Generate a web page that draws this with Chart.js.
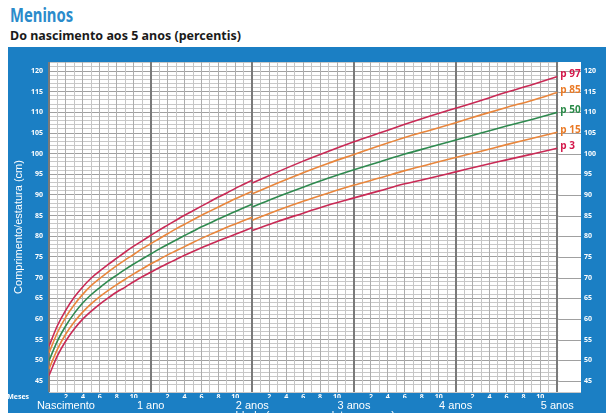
<!DOCTYPE html>
<html>
<head>
<meta charset="utf-8">
<script src="https://cdn.jsdelivr.net/npm/chart.js@4"></script>
<style>
  html, body { margin: 0; padding: 0; background: #fff; width: 613px; height: 413px; overflow: hidden; }
  #title { position: absolute; left: 10px; top: 1px; font: bold 20px "Noto Sans"; color: #2a8bcb; transform: scaleX(0.74); transform-origin: left; }
  #subtitle { position: absolute; left: 10px; top: 26px; font: bold 13px "Noto Sans"; color: #1a1a1a; transform: scaleX(0.96); transform-origin: left; }
  #panel { position: absolute; left: 8px; top: 47px; width: 598px; height: 380px; background: #1b7fc4; }
</style>
</head>
<body>
<div id="title">Meninos</div>
<div id="subtitle">Do nascimento aos 5 anos (percentis)</div>
<div id="panel"><canvas id="chart" width="598" height="380"></canvas></div>
<script>
// idade em meses
const lengthAges = [0, 1, 2, 3, 4, 5, 6, 7, 8, 9, 10, 11, 12, 13, 14, 15, 16, 17, 18, 19, 20, 21, 22, 23, 24];
const heightAges = [24, 27, 30, 33, 36, 39, 42, 45, 48, 51, 54, 57, 60];

// comprimento (deitado), 0-24 meses
const p3Length = [46.3, 51.1, 54.7, 57.6, 60.0, 61.9, 63.6, 65.1, 66.5, 67.7, 69.0, 70.2, 71.3, 72.4, 73.4, 74.4, 75.4, 76.3, 77.2, 78.1, 78.9, 79.7, 80.5, 81.3, 82.1];
const p15Length = [47.9, 52.7, 56.4, 59.3, 61.7, 63.7, 65.4, 66.9, 68.3, 69.6, 70.9, 72.1, 73.3, 74.4, 75.5, 76.5, 77.5, 78.5, 79.5, 80.4, 81.3, 82.2, 83.0, 83.8, 84.6];
const p50Length = [49.9, 54.7, 58.4, 61.4, 63.9, 65.9, 67.6, 69.2, 70.6, 72.0, 73.3, 74.5, 75.7, 76.9, 78.0, 79.1, 80.2, 81.2, 82.3, 83.2, 84.2, 85.1, 86.0, 86.9, 87.8];
const p85Length = [51.8, 56.7, 60.5, 63.5, 66.0, 68.1, 69.8, 71.4, 72.9, 74.3, 75.6, 77.0, 78.2, 79.4, 80.6, 81.8, 82.9, 84.0, 85.1, 86.1, 87.1, 88.1, 89.1, 90.0, 90.9];
const p97Length = [53.4, 58.4, 62.2, 65.3, 67.8, 69.9, 71.6, 73.2, 74.7, 76.2, 77.6, 78.9, 80.2, 81.5, 82.7, 83.9, 85.1, 86.2, 87.3, 88.4, 89.5, 90.5, 91.6, 92.6, 93.6];

// estatura (em pe), 24-60 meses
const p3Height = [81.4, 83.6, 85.6, 87.6, 89.3, 91.0, 92.7, 94.1, 95.6, 97.1, 98.5, 99.9, 101.3];
const p15Height = [83.9, 86.3, 88.5, 90.5, 92.4, 94.1, 95.9, 97.5, 99.1, 100.6, 102.2, 103.7, 105.2];
const p50Height = [87.1, 89.6, 91.9, 94.1, 96.1, 98.0, 99.9, 101.6, 103.3, 105.0, 106.7, 108.3, 110.0];
const p85Height = [90.3, 92.9, 95.4, 97.7, 99.8, 101.9, 103.9, 105.7, 107.5, 109.4, 111.2, 112.9, 114.8];
const p97Height = [92.9, 95.6, 98.2, 100.6, 102.9, 105.0, 107.1, 109.1, 111.0, 112.9, 114.9, 116.7, 118.7];

const percentileNames = ["p 97", "p 85", "p 50", "p 15", "p 3"];
const yearTicks = [2, 12, 24, 36, 48, 60];
const yearLabels = ["Nascimento", "1 ano", "2 anos", "3 anos", "4 anos", "5 anos"];

const RED = "#c92a55";
const ORANGE = "#e9863c";
const GREEN = "#2f8a4f";
const lineColors = [RED, ORANGE, GREEN, ORANGE, RED];
const labelColors = ["#d4174a", "#ea7a26", "#2a8a48", "#ea7a26", "#d4174a"];

const lengthSeries = [p97Length, p85Length, p50Length, p15Length, p3Length];
const heightSeries = [p97Height, p85Height, p50Height, p15Height, p3Height];

function points(ages, values) {
  return ages.map((a, i) => ({ x: a, y: values[i] }));
}

let datasets = [];
percentileNames.forEach((name, i) => {
  datasets.push({
    label: name,
    data: points(lengthAges, lengthSeries[i]),
    borderColor: lineColors[i],
  });
  datasets.push({
    label: name,
    data: points(heightAges, heightSeries[i]),
    borderColor: lineColors[i],
    endLabel: true,
    labelColor: labelColors[i],
  });
});

const whiteArea = {
  id: "whiteArea",
  beforeDraw(chart) {
    const { ctx, chartArea } = chart;
    ctx.save();
    ctx.fillStyle = "#ffffff";
    ctx.fillRect(chartArea.left, chartArea.top, chartArea.right - chartArea.left, chartArea.bottom - chartArea.top);
    ctx.restore();
  },
  // strip for the percentile labels after 60 months: only 5 cm lines
  beforeDatasetsDraw(chart) {
    const { ctx, chartArea, scales } = chart;
    const x0 = scales.x.getPixelForValue(60) + 1;
    ctx.save();
    ctx.fillStyle = "#ffffff";
    ctx.fillRect(x0, chartArea.top, chartArea.right - x0, chartArea.bottom - chartArea.top);
    ctx.strokeStyle = "#a0a0a0";
    ctx.lineWidth = 1;
    for (let v = 45; v <= 120; v += 5) {
      const y = Math.round(scales.y.getPixelForValue(v)) + 0.5;
      ctx.beginPath();
      ctx.moveTo(x0, y);
      ctx.lineTo(chartArea.right, y);
      ctx.stroke();
    }
    ctx.restore();
  },
  afterDatasetsDraw(chart) {
    const { ctx, chartArea } = chart;
    ctx.save();
    ctx.font = "bold 10px 'Open Sans'";
    ctx.textBaseline = "middle";
    chart.data.datasets.forEach((ds, i) => {
      if (!ds.endLabel) return;
      const meta = chart.getDatasetMeta(i);
      const last = meta.data[meta.data.length - 1];
      ctx.fillStyle = ds.labelColor;
      ctx.fillText(ds.label, last.x + 3, last.y - 2);
    });
    ctx.fillStyle = "#ffffff";
    ctx.font = "bold 7px 'Open Sans'";
    ctx.textAlign = "right";
    ctx.textBaseline = "top";
    ctx.fillText("Meses", chartArea.left - 20, chartArea.bottom + 1);
    ctx.restore();
  },
};

new Chart(document.getElementById("chart"), {
  type: "line",
  data: { datasets: datasets },
  options: {
    responsive: false,
    animation: false,
    events: [],
    layout: { padding: { top: 15, left: 0, right: 0, bottom: 0 } },
    elements: {
      point: { radius: 0 },
      line: { borderWidth: 1.6, tension: 0.4, cubicInterpolationMode: "monotone" },
    },
    plugins: {
      legend: { display: false },
      tooltip: { enabled: false },
    },
    scales: {
      // y first so the vertical month/year lines are drawn on top of it
      y: {
        type: "linear",
        position: "left",
        min: 42.3,
        max: 122.2,
        grid: {
          drawTicks: false,
          color: (c) => (c.tick.value % 5 === 0 ? "#a0a0a0" : "#c8c8c8"),
        },
        border: { display: false },
        ticks: {
          stepSize: 1,
          autoSkip: false,
          padding: 6,
          color: "#ffffff",
          font: { size: 7, weight: "bold", family: "'Open Sans'" },
          callback: (v) => (v % 5 === 0 && v >= 45 && v <= 120 ? v : ""),
        },
        title: {
          display: true,
          text: "Comprimento/estatura (cm)",
          color: "#ffffff",
          font: { size: 11, family: "'Liberation Sans'" },
        },
        afterFit: (s) => { s.width = 41; },
      },
      y2: {
        type: "linear",
        position: "right",
        min: 42.3,
        max: 122.2,
        grid: { display: false, drawTicks: false },
        border: { display: false },
        ticks: {
          stepSize: 1,
          autoSkip: false,
          padding: 3,
          color: "#ffffff",
          font: { size: 7, weight: "bold", family: "'Open Sans'" },
          callback: (v) => (v % 5 === 0 && v >= 45 && v <= 120 ? v : ""),
        },
        afterFit: (s) => { s.width = 25; },
      },
      x: {
        type: "linear",
        position: "bottom",
        min: 0,
        max: 62.8,
        grid: {
          drawTicks: false,
          color: (c) => {
            const v = c.tick.value;
            if (v > 60) return "rgba(0,0,0,0)";
            if (v % 12 === 0) return "#7a7a7a";
            return v % 2 === 0 ? "#adadad" : "#c6c6c6";
          },
          lineWidth: (c) => (c.tick.value % 12 === 0 ? 2 : 1),
        },
        border: { display: false },
        ticks: {
          stepSize: 1,
          autoSkip: false,
          maxRotation: 0,
          padding: 1,
          color: "#ffffff",
          font: { size: 7, weight: "bold", family: "'Open Sans'" },
          callback: (v) => {
            const m = v % 12;
            return v <= 60 && m > 0 && m % 2 === 0 ? String(m) : "";
          },
        },
        afterFit: (s) => { s.height = 6; },
      },
      x2: {
        type: "linear",
        position: "bottom",
        min: 0,
        max: 62.8,
        grid: { display: false, drawTicks: false },
        border: { display: false },
        afterBuildTicks: (s) => { s.ticks = yearTicks.map((v) => ({ value: v })); },
        ticks: {
          autoSkip: false,
          maxRotation: 0,
          padding: 1,
          color: "#ffffff",
          font: { size: 11, family: "'Liberation Sans'" },
          callback: (v, i) => yearLabels[i],
        },
        title: {
          display: true,
          text: "Idade (meses completos e anos)",
          color: "#ffffff",
          font: { size: 11, family: "'Liberation Sans'" },
        },
        afterFit: (s) => { s.height = 29; },
      },
    },
  },
  plugins: [whiteArea],
});
</script>
</body>
</html>
